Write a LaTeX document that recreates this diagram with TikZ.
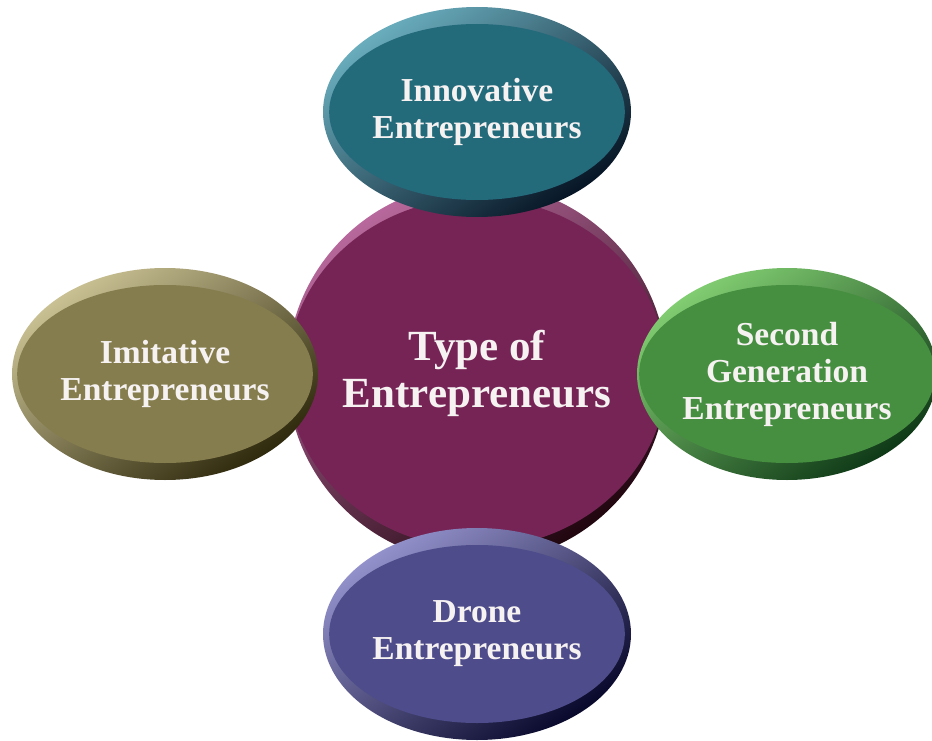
\documentclass[tikz,border=0pt]{standalone}
\usepackage{fontspec}
\setmainfont{Liberation Serif}
\usetikzlibrary{shapes.geometric}
\definecolor{tealin}{HTML}{236A7B}\definecolor{tealhi}{HTML}{6AAEBE}\definecolor{tealdk}{HTML}{061424}
\definecolor{purin}{HTML}{762456}\definecolor{purhi}{HTML}{B8689C}\definecolor{purdk}{HTML}{20060F}
\definecolor{olvin}{HTML}{857D4E}\definecolor{olvhi}{HTML}{CAC294}\definecolor{olvdk}{HTML}{2E280C}
\definecolor{grnin}{HTML}{468E40}\definecolor{grnhi}{HTML}{82CE72}\definecolor{grndk}{HTML}{0E3816}
\definecolor{bluin}{HTML}{4E4C8A}\definecolor{bluhi}{HTML}{9492CC}\definecolor{bludk}{HTML}{07072A}
\definecolor{txt}{HTML}{F6F2F2}
\tikzset{
  rim/.style n args={3}{ellipse, inner sep=0pt, draw=none,
     top color=#1, middle color=#2!90!white, bottom color=#3, shading angle=35},
  face/.style={ellipse, inner sep=0pt, draw=none, fill=#1, text=txt,
     align=center, font=\bfseries\fontsize{33.5}{37}\selectfont},
}
\begin{document}
\begin{tikzpicture}[x=1pt,y=-1pt]
\useasboundingbox (0,0) rectangle (932,741);
\fill[white] (0,0) rectangle (932,741);
% centre circle
\node[rim={purhi}{purin}{purdk}, minimum width=380pt, minimum height=380pt] (crim) at (477,373) {};
\node[face=purin, minimum width=350pt, minimum height=350pt,
      font=\bfseries\fontsize{43}{47}\selectfont] (centre) at (477,373) {Type of\\Entrepreneurs};
% top
\node[rim={tealhi}{tealin}{tealdk}, minimum width=308pt, minimum height=210pt] (trim) at (477,112) {};
\node[face=tealin, minimum width=274pt, minimum height=176pt] (top) at (477,112) {Innovative\\Entrepreneurs};
% left
\node[rim={olvhi}{olvin}{olvdk}, minimum width=306pt, minimum height=212pt] (lrim) at (165,374) {};
\node[face=olvin, minimum width=272pt, minimum height=178pt] (left) at (165,374) {Imitative\\Entrepreneurs};
% right
\node[rim={grnhi}{grnin}{grndk}, minimum width=300pt, minimum height=212pt] (rrim) at (787,374) {};
\node[face=grnin, minimum width=266pt, minimum height=178pt] (right) at (787,374) {Second\\Generation\\Entrepreneurs};
% bottom
\node[rim={bluhi}{bluin}{bludk}, minimum width=308pt, minimum height=212pt] (brim) at (477,634) {};
\node[face=bluin, minimum width=274pt, minimum height=178pt] (bottom) at (477,634) {Drone\\Entrepreneurs};
\end{tikzpicture}
\end{document}
